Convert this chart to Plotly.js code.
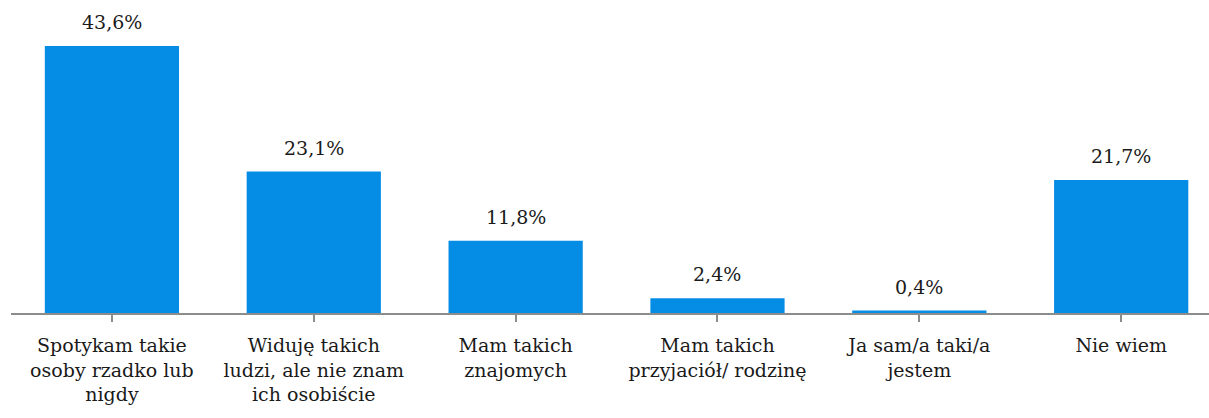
<!DOCTYPE html>
<html>
<head>
<meta charset="utf-8">
<script src="https://cdn.plot.ly/plotly-3.0.1.min.js"></script>
<style>
  html, body { margin: 0; padding: 0; background: #fff; }
  #chart { width: 1209px; height: 418px; }
</style>
</head>
<body>
<div id="chart"></div>
<script>
// categories and values (percent)
const categories = [
    'Spotykam takie<br>osoby rzadko lub<br>nigdy',
    'Widuję takich<br>ludzi, ale nie znam<br>ich osobiście',
    'Mam takich<br>znajomych',
    'Mam takich<br>przyjaciół/ rodzinę',
    'Ja sam/a taki/a<br>jestem',
    'Nie wiem'
];
const values = [43.6, 23.1, 11.8, 2.4, 0.4, 21.7];
const valueLabels = ['43,6%', '23,1%', '11,8%', '2,4%', '0,4%', '21,7%'];

const idx = categories.map((c, i) => i);
const fontFam = 'DejaVu Serif';

const barTrace = {
    x: idx,
    y: values,
    type: 'bar',
    width: 0.665,
    marker: { color: '#058DE5' },
    hoverinfo: 'skip'
};

// value labels above bars
const annotations = idx.map(i => ({
    x: i,
    y: values[i],
    text: valueLabels[i],
    showarrow: false,
    yanchor: 'bottom',
    yshift: 11,
    font: { family: fontFam, size: 19, color: '#1a1a1a' }
}));

const layout = {
    font: { family: fontFam },
    margin: { l: 11, r: 0, t: 0, b: 105 },
    paper_bgcolor: '#fff',
    plot_bgcolor: '#fff',
    showlegend: false,
    xaxis: {
        range: [-0.5, 5.435],
        tickmode: 'array',
        tickvals: idx,
        ticktext: categories,
        tickson: 'boundaries',
        ticks: 'outside',
        ticklen: 7,
        tickwidth: 2,
        tickcolor: '#8c8c8c',
        ticklabelstandoff: 7,
        showline: true,
        linecolor: '#8c8c8c',
        linewidth: 2,
        showgrid: false,
        zeroline: false,
        tickfont: { family: fontFam, size: 19, color: '#1a1a1a' }
    },
    yaxis: {
        range: [0, 51.1],
        visible: false,
        showgrid: false,
        zeroline: false
    },
    annotations: annotations
};

Plotly.newPlot('chart', [barTrace], layout, { displayModeBar: false, staticPlot: true });
</script>
</body>
</html>
